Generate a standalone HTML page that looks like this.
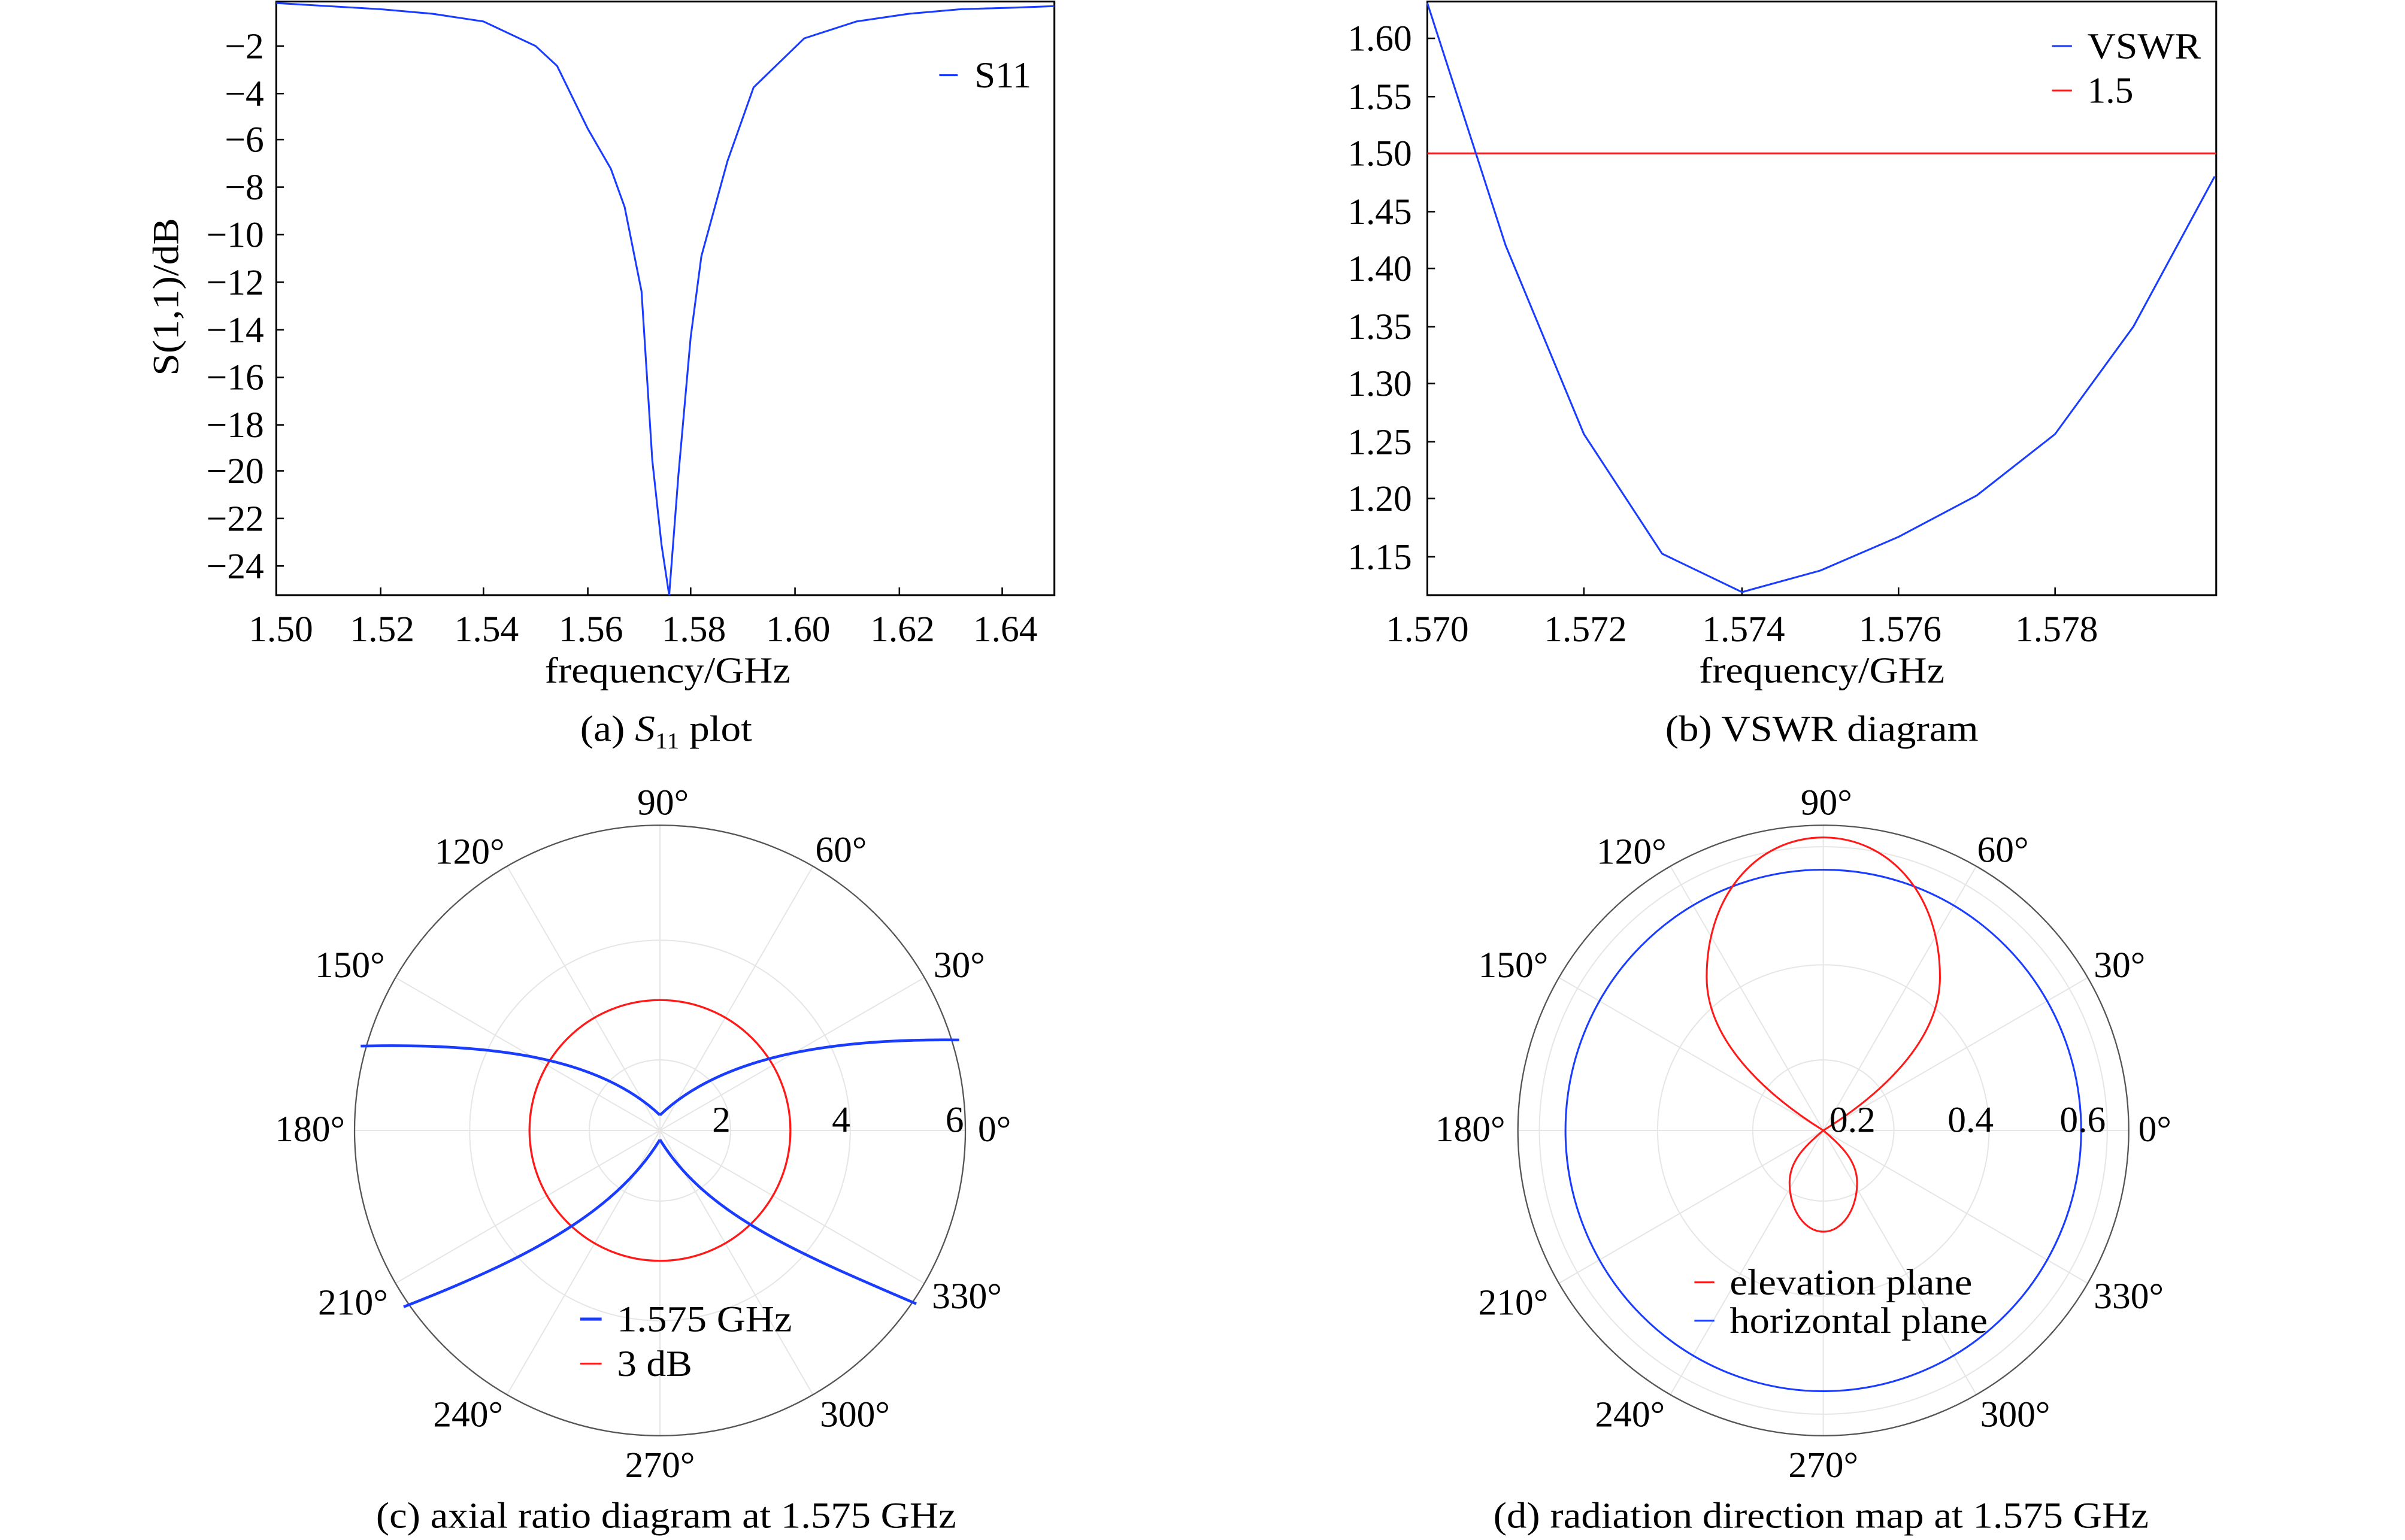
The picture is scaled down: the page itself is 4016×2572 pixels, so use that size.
<!DOCTYPE html>
<html><head><meta charset="utf-8"><style>
html,body{margin:0;padding:0;background:#fff;}
svg{display:block;}
text{font-family:"Liberation Serif",serif;fill:#000;}
</style></head><body>
<svg width="4016" height="2572" viewBox="0 0 1567 1004" preserveAspectRatio="none" xmlns="http://www.w3.org/2000/svg">
<!-- (a) -->
<rect x="180" y="1" width="507" height="387" fill="none" stroke="#000" stroke-width="1.2"/>
<g stroke="#000" stroke-width="1">
<line x1="180" y1="30" x2="185" y2="30"/><line x1="180" y1="61" x2="185" y2="61"/><line x1="180" y1="91" x2="185" y2="91"/><line x1="180" y1="122" x2="185" y2="122"/><line x1="180" y1="153" x2="185" y2="153"/><line x1="180" y1="184" x2="185" y2="184"/><line x1="180" y1="215" x2="185" y2="215"/><line x1="180" y1="246" x2="185" y2="246"/><line x1="180" y1="277" x2="185" y2="277"/><line x1="180" y1="307" x2="185" y2="307"/><line x1="180" y1="338" x2="185" y2="338"/><line x1="180" y1="369" x2="185" y2="369"/>
<line x1="248" y1="388" x2="248" y2="383"/><line x1="315" y1="388" x2="315" y2="383"/><line x1="383" y1="388" x2="383" y2="383"/><line x1="450" y1="388" x2="450" y2="383"/><line x1="518" y1="388" x2="518" y2="383"/><line x1="586" y1="388" x2="586" y2="383"/><line x1="653" y1="388" x2="653" y2="383"/>
</g>
<g font-size="24" text-anchor="end">
<text x="172" y="38">−2</text><text x="172" y="69">−4</text><text x="172" y="99">−6</text><text x="172" y="130">−8</text><text x="172" y="161">−10</text><text x="172" y="192">−12</text><text x="172" y="223">−14</text><text x="172" y="254">−16</text><text x="172" y="285">−18</text><text x="172" y="315">−20</text><text x="172" y="346">−22</text><text x="172" y="377">−24</text>
</g>
<g font-size="24" text-anchor="middle">
<text x="183" y="418">1.50</text><text x="249" y="418">1.52</text><text x="317" y="418">1.54</text><text x="385" y="418">1.56</text><text x="452" y="418">1.58</text><text x="520" y="418">1.60</text><text x="588" y="418">1.62</text><text x="655" y="418">1.64</text>
</g>
<text x="355" y="445" font-size="24" textLength="160" lengthAdjust="spacingAndGlyphs">frequency/GHz</text>
<text x="378" y="483" font-size="24" textLength="112" lengthAdjust="spacingAndGlyphs">(a) <tspan font-style="italic">S</tspan><tspan font-size="15" dy="5">11</tspan><tspan dy="-5"> plot</tspan></text>
<text transform="translate(116,142) rotate(-90)" font-size="24" text-anchor="end" textLength="103" lengthAdjust="spacingAndGlyphs">S(1,1)/dB</text>
<polyline fill="none" stroke="#1a3cff" stroke-width="1.2" points="180,2 214,4 248,6 282,9 315,14 349,30 363,43 383,84 398,110 407,135 418,190 425,300 431,355 436,388 442,310 450,220 457,167 474,105 491,57 524,25 558,14 592,9 626,6 660,5 687,4"/>
<line x1="612" y1="49" x2="624" y2="49" stroke="#1a3cff" stroke-width="1.2"/>
<text x="635" y="57" font-size="24" textLength="37" lengthAdjust="spacingAndGlyphs">S11</text>
<!-- (b) -->
<rect x="930" y="1" width="514" height="387" fill="none" stroke="#000" stroke-width="1.2"/>
<g stroke="#000" stroke-width="1">
<line x1="930" y1="25" x2="935" y2="25"/><line x1="930" y1="63" x2="935" y2="63"/><line x1="930" y1="100" x2="935" y2="100"/><line x1="930" y1="138" x2="935" y2="138"/><line x1="930" y1="175" x2="935" y2="175"/><line x1="930" y1="213" x2="935" y2="213"/><line x1="930" y1="250" x2="935" y2="250"/><line x1="930" y1="288" x2="935" y2="288"/><line x1="930" y1="325" x2="935" y2="325"/><line x1="930" y1="363" x2="935" y2="363"/>
<line x1="1032" y1="388" x2="1032" y2="383"/><line x1="1135" y1="388" x2="1135" y2="383"/><line x1="1237" y1="388" x2="1237" y2="383"/><line x1="1339" y1="388" x2="1339" y2="383"/>
</g>
<g font-size="24" text-anchor="end">
<text x="920" y="33">1.60</text><text x="920" y="71">1.55</text><text x="920" y="108">1.50</text><text x="920" y="146">1.45</text><text x="920" y="183">1.40</text><text x="920" y="221">1.35</text><text x="920" y="258">1.30</text><text x="920" y="296">1.25</text><text x="920" y="333">1.20</text><text x="920" y="371">1.15</text>
</g>
<g font-size="24" text-anchor="middle">
<text x="930" y="418">1.570</text><text x="1033" y="418">1.572</text><text x="1136" y="418">1.574</text><text x="1238" y="418">1.576</text><text x="1340" y="418">1.578</text>
</g>
<text x="1107" y="445" font-size="24" textLength="160" lengthAdjust="spacingAndGlyphs">frequency/GHz</text>
<text x="1085" y="483" font-size="24" textLength="204" lengthAdjust="spacingAndGlyphs">(b) VSWR diagram</text>
<line x1="930" y1="100" x2="1444" y2="100" stroke="#ff1a1a" stroke-width="1.2"/>
<polyline fill="none" stroke="#1a3cff" stroke-width="1.2" points="930,2 981,160 1032,283 1083,361 1135,386 1186,372 1237,350 1288,323 1339,283 1390,213 1443,115"/>
<line x1="1337" y1="30" x2="1350" y2="30" stroke="#1a3cff" stroke-width="1.2"/>
<text x="1360" y="38" font-size="24" textLength="74" lengthAdjust="spacingAndGlyphs">VSWR</text>
<line x1="1337" y1="59" x2="1350" y2="59" stroke="#ff1a1a" stroke-width="1.2"/>
<text x="1360" y="67" font-size="24">1.5</text>
<!-- (c) -->
<g transform="translate(430,737)">
<g stroke="#e6e6e6" stroke-width="0.8" fill="none">
<circle r="46"/><circle r="124"/>
<line x1="-199" y1="0" x2="199" y2="0"/><line x1="0" y1="-199" x2="0" y2="199"/>
<line x1="172" y1="-99.5" x2="-172" y2="99.5"/><line x1="99.5" y1="-172" x2="-99.5" y2="172"/>
<line x1="-172" y1="-99.5" x2="172" y2="99.5"/><line x1="-99.5" y1="-172" x2="99.5" y2="172"/>
</g>
<circle r="199" fill="none" stroke="#555" stroke-width="0.9"/>
<circle r="85" fill="none" stroke="#ff1a1a" stroke-width="1.3"/>
<g fill="none" stroke="#1a3cff" stroke-width="1.8">
<path d="M0,-10 C40,-48 110,-60 195,-59"/>
<path d="M0,-10 C-40,-48 -110,-57 -195,-55"/>
<path d="M0,6 C30,55 90,80 167,113"/>
<path d="M0,6 C-30,55 -90,85 -167,115"/>
</g>
</g>
<g font-size="24" text-anchor="middle">
<text x="470" y="738">2</text><text x="548" y="738">4</text><text x="622" y="738">6</text>
<text x="432" y="531">90°</text><text x="548" y="562">60°</text><text x="625" y="637">30°</text><text x="648" y="744">0°</text>
<text x="630" y="853">330°</text><text x="557" y="930">300°</text><text x="430" y="963">270°</text><text x="305" y="930">240°</text><text x="230" y="857">210°</text><text x="202" y="744">180°</text><text x="228" y="637">150°</text><text x="306" y="563">120°</text>
</g>
<text x="245" y="996" font-size="24" textLength="378" lengthAdjust="spacingAndGlyphs">(c) axial ratio diagram at 1.575 GHz</text>
<line x1="378" y1="860" x2="392" y2="860" stroke="#1a3cff" stroke-width="2"/>
<text x="402" y="868" font-size="24" textLength="114" lengthAdjust="spacingAndGlyphs">1.575 GHz</text>
<line x1="378" y1="889" x2="392" y2="889" stroke="#ff1a1a" stroke-width="1.2"/>
<text x="402" y="897" font-size="24" textLength="49" lengthAdjust="spacingAndGlyphs">3 dB</text>
<!-- (d) -->
<g transform="translate(1188,737)">
<g stroke="#e6e6e6" stroke-width="0.8" fill="none">
<circle r="46"/><circle r="108"/><circle r="185"/>
<line x1="-199" y1="0" x2="199" y2="0"/><line x1="0" y1="-199" x2="0" y2="199"/>
<line x1="172" y1="-99.5" x2="-172" y2="99.5"/><line x1="99.5" y1="-172" x2="-99.5" y2="172"/>
<line x1="-172" y1="-99.5" x2="172" y2="99.5"/><line x1="-99.5" y1="-172" x2="99.5" y2="172"/>
</g>
<circle r="199" fill="none" stroke="#555" stroke-width="0.9"/>
<ellipse cx="0" cy="0" rx="168" ry="170" fill="none" stroke="#1a3cff" stroke-width="1.2"/>
<path d="M0,0 C-40,-25 -76,-60 -76,-100 C-76,-155 -42,-191 0,-191 C42,-191 76,-155 76,-100 C76,-60 40,-25 0,0 Z" fill="none" stroke="#ff1a1a" stroke-width="1.2"/>
<path d="M0,0 C-12,10 -22,20 -22,34 C-22,52 -12,66 0,66 C12,66 22,52 22,34 C22,20 12,10 0,0 Z" fill="none" stroke="#ff1a1a" stroke-width="1.2"/>
</g>
<g font-size="24" text-anchor="middle">
<text x="1207" y="738">0.2</text><text x="1284" y="738">0.4</text><text x="1357" y="738">0.6</text>
<text x="1190" y="531">90°</text><text x="1305" y="562">60°</text><text x="1381" y="637">30°</text><text x="1404" y="744">0°</text>
<text x="1387" y="853">330°</text><text x="1313" y="930">300°</text><text x="1188" y="963">270°</text><text x="1062" y="930">240°</text><text x="986" y="857">210°</text><text x="958" y="744">180°</text><text x="986" y="637">150°</text><text x="1063" y="563">120°</text>
</g>
<text x="973" y="996" font-size="24" textLength="427" lengthAdjust="spacingAndGlyphs">(d) radiation direction map at 1.575 GHz</text>
<line x1="1104" y1="836" x2="1117" y2="836" stroke="#ff1a1a" stroke-width="1.2"/>
<text x="1127" y="844" font-size="24" textLength="158" lengthAdjust="spacingAndGlyphs">elevation plane</text>
<line x1="1104" y1="861" x2="1117" y2="861" stroke="#1a3cff" stroke-width="1.2"/>
<text x="1127" y="869" font-size="24" textLength="168" lengthAdjust="spacingAndGlyphs">horizontal plane</text>
</svg>
</body></html>
